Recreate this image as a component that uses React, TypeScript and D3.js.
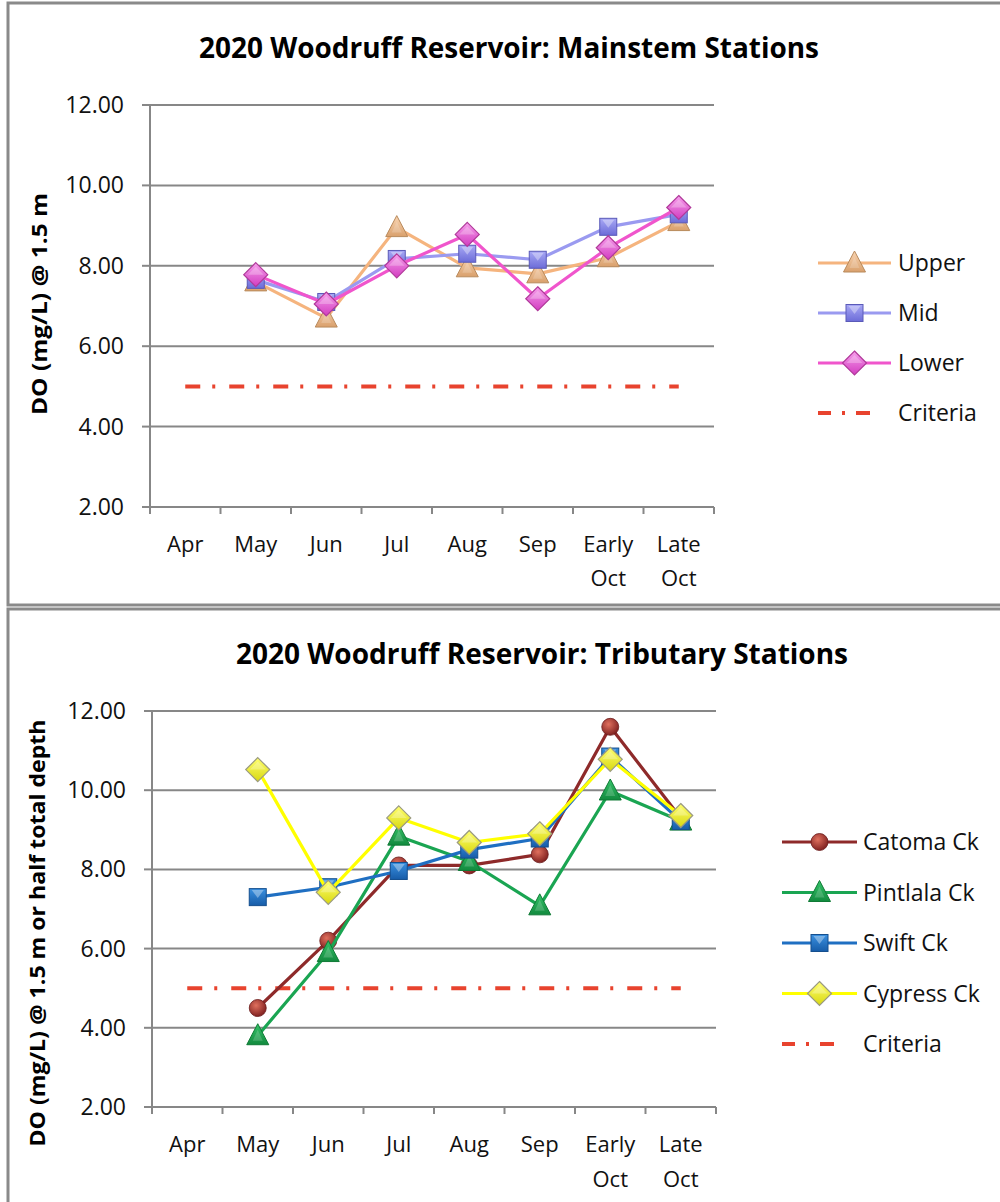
import React from "react";
import * as d3 from "d3";

const categories = ["Apr", "May", "Jun", "Jul", "Aug", "Sep", "Early Oct", "Late Oct"];
const yTicks = [2, 4, 6, 8, 10, 12];

// Mainstem stations
const upper = [null, 7.6, 6.7, 8.95, 7.95, 7.8, 8.2, 9.1];
const mid = [null, 7.65, 7.1, 8.17, 8.3, 8.15, 8.97, 9.28];
const lower = [null, 7.78, 7.05, 8.0, 8.78, 7.18, 8.45, 9.45];
const criteria = [5, 5, 5, 5, 5, 5, 5, 5];

// Tributary stations
const catoma = [null, 4.5, 6.2, 8.1, 8.1, 8.38, 11.6, 9.3];
const pintlala = [null, 3.8, 5.9, 8.84, 8.2, 7.08, 9.98, 9.22];
const swift = [null, 7.3, 7.55, 7.96, 8.5, 8.78, 10.85, 9.22];
const cypress = [null, 10.52, 7.42, 9.3, 8.68, 8.9, 10.78, 9.36];

type Series = {
  name: string;
  values: (number | null)[];
  color: string;
  marker: "triangle" | "square" | "diamond" | "circle" | "none";
  grad?: string;
  stroke?: string;
  dash?: boolean;
};

const topSeries: Series[] = [
  { name: "Upper", values: upper, color: "#f5b47e", marker: "triangle", grad: "gUpper", stroke: "#b88a5c" },
  { name: "Mid", values: mid, color: "#9a9af0", marker: "square", grad: "gMid", stroke: "#5a5ab8" },
  { name: "Lower", values: lower, color: "#f055cc", marker: "diamond", grad: "gLower", stroke: "#b03a9a" },
];
const bottomSeries: Series[] = [
  { name: "Catoma Ck", values: catoma, color: "#8e2a2a", marker: "circle", grad: "gCatoma", stroke: "#6a1a1a" },
  { name: "Pintlala Ck", values: pintlala, color: "#1aa552", marker: "triangle", grad: "gPint", stroke: "#0f7a35" },
  { name: "Swift Ck", values: swift, color: "#1f6fc2", marker: "square", grad: "gSwift", stroke: "#154f8e" },
  { name: "Cypress Ck", values: cypress, color: "#ffff00", marker: "diamond", grad: "gCyp", stroke: "#9a9a80" },
];
const criteriaSeries: Series = { name: "Criteria", values: criteria, color: "#e8432e", marker: "none", dash: true };

const FONT = "'Open Sans', 'Liberation Sans', Arial, sans-serif";
const GRID = "#878787";
const CRIT_DASH = "15 12 3 14";

function Marker({ s, x, y }: { s: Series; x: number; y: number }) {
  const fill = `url(#${s.grad})`;
  const st = s.stroke;
  if (s.marker === "triangle") {
    return (
      <g transform={`translate(${x},${y})`}>
        <path d="M0,-12 L11,9 L-11,9 Z" fill={fill} stroke={st} strokeWidth={1} />
        <path d="M0,-6 L5,5 L-5,5 Z" fill="#ffffff" opacity={0.18} />
      </g>
    );
  }
  if (s.marker === "square") {
    return (
      <g transform={`translate(${x},${y})`}>
        <rect x={-8.5} y={-8.5} width={17} height={17} fill={fill} stroke={st} strokeWidth={1} />
        <path d="M-6,-7 L6,-7 L0,1 Z" fill="#ffffff" opacity={0.35} />
      </g>
    );
  }
  if (s.marker === "diamond") {
    return (
      <g transform={`translate(${x},${y})`}>
        <path d="M0,-12 L12,0 L0,12 L-12,0 Z" fill={fill} stroke={st} strokeWidth={1.2} />
        <path d="M0,-8 L8,0 L0,0 L-8,0 Z" fill="#ffffff" opacity={0.25} />
      </g>
    );
  }
  if (s.marker === "circle") {
    return <circle cx={x} cy={y} r={8.5} fill={fill} stroke={st} strokeWidth={0.8} />;
  }
  return null;
}

type ChartProps = {
  title: string;
  titleX: number;
  titleW: number;
  titleY: number;
  yTitle: string;
  yTitleX: number;
  yTitleY: number;
  yTitleLen: number;
  x0: number;
  x1: number;
  yTop: number;
  yBot: number;
  labelY1: number;
  labelY2: number;
  series: Series[];
  legendX0: number;
  legendX1: number;
  legendTextX: number;
  legendY0: number;
  legendStep: number;
};

function Chart(p: ChartProps) {
  const x = d3.scaleBand<string>().domain(categories).range([p.x0, p.x1]).paddingInner(0).paddingOuter(0);
  const y = d3.scaleLinear().domain([2, 12]).range([p.yBot, p.yTop]);
  const cx = (c: string) => (x(c) as number) + x.bandwidth() / 2;
  const line = d3
    .line<[string, number | null]>()
    .defined((d) => d[1] !== null)
    .x((d) => cx(d[0]))
    .y((d) => y(d[1] as number));
  const all = [criteriaSeries, ...p.series];
  const legendItems = [...p.series, criteriaSeries];
  const boundaries = [...categories.map((c) => x(c) as number), p.x1];
  const legendMid = (p.legendX0 + p.legendX1) / 2;

  return (
    <g>
      <text
        x={p.titleX}
        y={p.titleY}
        fontFamily={FONT}
        fontWeight="bold"
        fontSize={28}
        textLength={p.titleW}
        lengthAdjust="spacingAndGlyphs"
        fill="#000"
      >
        {p.title}
      </text>
      {/* gridlines */}
      {yTicks.map((t) => (
        <g key={t}>
          {t !== 2 && <line x1={p.x0} x2={p.x1} y1={y(t)} y2={y(t)} stroke={GRID} strokeWidth={2} />}
          <line x1={p.x0 - 8} x2={p.x0} y1={y(t)} y2={y(t)} stroke={GRID} strokeWidth={2} />
          <text x={p.x0 - 26} y={y(t)} dy="0.35em" textAnchor="end" fontFamily={FONT} fontSize={23} fill="#111">
            {d3.format(".2f")(t)}
          </text>
        </g>
      ))}
      {/* axes */}
      <line x1={p.x0} x2={p.x0} y1={p.yTop} y2={p.yBot} stroke={GRID} strokeWidth={2} />
      <line x1={p.x0} x2={p.x1} y1={p.yBot} y2={p.yBot} stroke={GRID} strokeWidth={2} />
      {boundaries.map((b, i) => (
        <line key={i} x1={b} x2={b} y1={p.yBot} y2={p.yBot + 7} stroke={GRID} strokeWidth={2} />
      ))}
      {categories.map((c) => {
        const parts = c.split(" ");
        return (
          <text key={c} textAnchor="middle" fontFamily={FONT} fontSize={22} fill="#111">
            {parts.map((w, i) => (
              <tspan key={i} x={cx(c)} y={i === 0 ? p.labelY1 : p.labelY2}>
                {w}
              </tspan>
            ))}
          </text>
        );
      })}
      {/* y title */}
      <text
        transform={`translate(${p.yTitleX},${p.yTitleY}) rotate(-90)`}
        textAnchor="middle"
        fontFamily={FONT}
        fontWeight="bold"
        fontSize={21}
        textLength={p.yTitleLen}
        lengthAdjust="spacingAndGlyphs"
        fill="#000"
      >
        {p.yTitle}
      </text>
      {/* series */}
      {all.map((s) => {
        const pts = categories.map((c, i) => [c, s.values[i]] as [string, number | null]);
        return (
          <g key={s.name}>
            <path
              d={line(pts) || ""}
              fill="none"
              stroke={s.color}
              strokeWidth={s.dash ? 4 : 3.2}
              strokeDasharray={s.dash ? CRIT_DASH : undefined}
              strokeLinejoin="round"
            />
            {pts
              .filter((d) => d[1] !== null)
              .map((d) => (
                <Marker key={d[0]} s={s} x={cx(d[0])} y={y(d[1] as number)} />
              ))}
          </g>
        );
      })}
      {/* legend */}
      {legendItems.map((s, i) => {
        const ly = p.legendY0 + i * p.legendStep;
        return (
          <g key={s.name}>
            {s.dash ? (
              <line
                x1={p.legendX0}
                x2={p.legendX1 - 12}
                y1={ly}
                y2={ly}
                stroke={s.color}
                strokeWidth={4}
                strokeDasharray="13 11 3 11 14"
              />
            ) : (
              <line x1={p.legendX0} x2={p.legendX1} y1={ly} y2={ly} stroke={s.color} strokeWidth={3.2} />
            )}
            <Marker s={s} x={legendMid} y={ly} />
            <text x={p.legendTextX} y={ly} dy="0.36em" fontFamily={FONT} fontSize={23} fill="#111">
              {s.name}
            </text>
          </g>
        );
      })}
    </g>
  );
}

export default function App() {
  return (
    <svg
      width={1000}
      height={1202}
      style={{ position: "absolute", left: 0, top: 0, background: "#fff" }}
      xmlns="http://www.w3.org/2000/svg"
    >
      <defs>
        <linearGradient id="gUpper" x1="0" y1="0" x2="0" y2="1">
          <stop offset="0" stopColor="#fad6b4" />
          <stop offset="1" stopColor="#d9a06c" />
        </linearGradient>
        <linearGradient id="gMid" x1="0" y1="0" x2="0" y2="1">
          <stop offset="0" stopColor="#a8a8f5" />
          <stop offset="1" stopColor="#6c6cd8" />
        </linearGradient>
        <linearGradient id="gLower" x1="0" y1="0" x2="0" y2="1">
          <stop offset="0" stopColor="#f7a0ec" />
          <stop offset="1" stopColor="#d23cc0" />
        </linearGradient>
        <radialGradient id="gCatoma" cx="0.4" cy="0.35" r="0.7">
          <stop offset="0" stopColor="#e0705e" />
          <stop offset="1" stopColor="#7a1c1c" />
        </radialGradient>
        <linearGradient id="gPint" x1="0" y1="0" x2="0" y2="1">
          <stop offset="0" stopColor="#36c46a" />
          <stop offset="1" stopColor="#128a3e" />
        </linearGradient>
        <linearGradient id="gSwift" x1="0" y1="0" x2="0" y2="1">
          <stop offset="0" stopColor="#3a90e0" />
          <stop offset="1" stopColor="#175ca8" />
        </linearGradient>
        <linearGradient id="gCyp" x1="0" y1="0" x2="0" y2="1">
          <stop offset="0" stopColor="#ffff70" />
          <stop offset="1" stopColor="#d8d810" />
        </linearGradient>
      </defs>
      <rect x={0} y={0} width={1000} height={1202} fill="#fff" />
      {/* panel borders */}
      <rect x={8} y={3} width={1000} height={602} fill="none" stroke="#8a8a8a" strokeWidth={3} />
      <rect x={8} y={609} width={1000} height={700} fill="none" stroke="#8a8a8a" strokeWidth={3} />
      <Chart
        title="2020 Woodruff Reservoir: Mainstem Stations"
        titleX={199}
        titleW={620}
        titleY={58}
        yTitle="DO (mg/L) @ 1.5 m"
        yTitleX={47}
        yTitleY={304}
        yTitleLen={222}
        x0={150}
        x1={714}
        yTop={105}
        yBot={507}
        labelY1={552}
        labelY2={586}
        series={topSeries}
        legendX0={818}
        legendX1={891}
        legendTextX={898}
        legendY0={263}
        legendStep={50}
      />
      <Chart
        title="2020 Woodruff Reservoir: Tributary Stations"
        titleX={236}
        titleW={612}
        titleY={664}
        yTitle="DO (mg/L) @ 1.5 m or half total depth"
        yTitleX={45}
        yTitleY={933}
        yTitleLen={427}
        x0={152}
        x1={716}
        yTop={711}
        yBot={1107}
        labelY1={1152}
        labelY2={1187}
        series={bottomSeries}
        legendX0={782}
        legendX1={857}
        legendTextX={863}
        legendY0={842}
        legendStep={50.5}
      />
    </svg>
  );
}
